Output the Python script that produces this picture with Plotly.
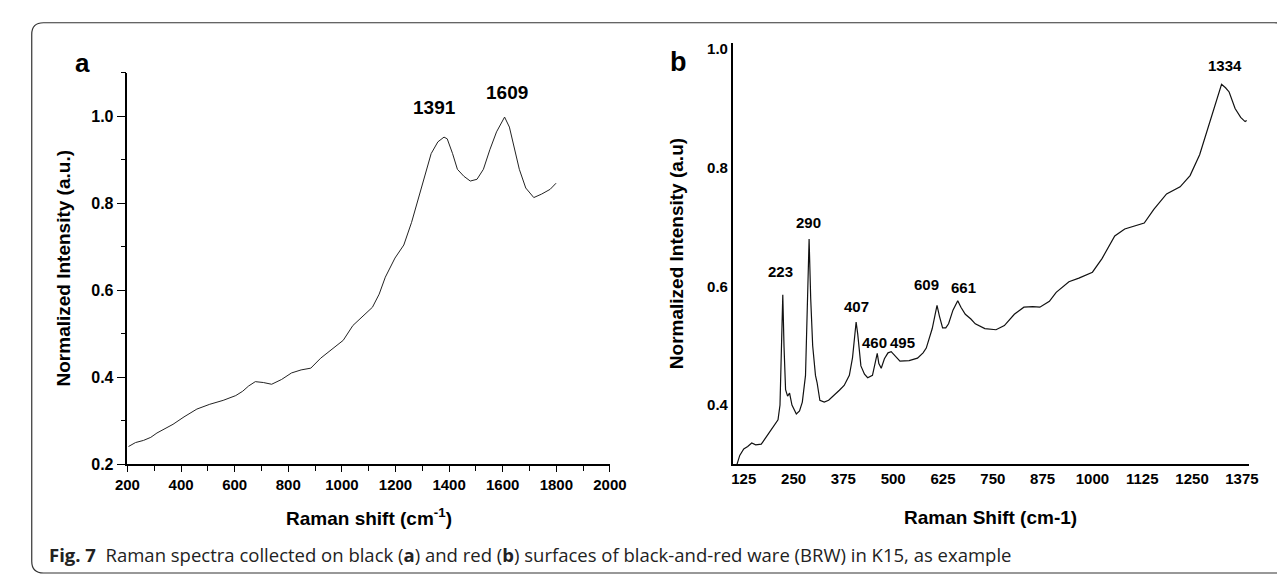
import plotly.graph_objects as go

# ---------------- data ----------------
a_shift = [204, 230, 260, 287, 310, 338, 370, 411, 459, 507, 557, 604, 630, 652, 677,
           707, 738, 775, 812, 848, 884, 921, 968, 1005, 1041, 1078, 1114, 1139, 1162,
           1198, 1231, 1260, 1285, 1308, 1333, 1358, 1381, 1393, 1413, 1431, 1455, 1479,
           1504, 1528, 1552, 1577, 1607, 1625, 1643, 1662, 1686, 1716, 1745, 1777, 1799]
a_intensity = [0.241, 0.250, 0.255, 0.262, 0.272, 0.281, 0.292, 0.309, 0.327, 0.338, 0.347,
               0.358, 0.368, 0.380, 0.390, 0.388, 0.384, 0.395, 0.410, 0.417, 0.421, 0.444,
               0.467, 0.485, 0.519, 0.541, 0.561, 0.591, 0.630, 0.674, 0.704, 0.756, 0.810,
               0.865, 0.914, 0.941, 0.952, 0.948, 0.914, 0.878, 0.862, 0.851, 0.855, 0.878,
               0.923, 0.964, 0.998, 0.975, 0.930, 0.878, 0.835, 0.813, 0.821, 0.832, 0.846]

b_shift = [108, 115, 125, 135, 145, 155, 169, 185, 203, 211, 216, 220, 223, 226, 230, 235,
           240, 246, 257, 265, 272, 280, 285, 289, 293, 298, 305, 309, 316, 327, 338, 350,
           365, 377, 390, 398, 403, 407, 411, 419, 428, 436, 448, 455, 460, 464, 470, 478,
           487, 495, 505, 517, 540, 561, 575, 583, 598, 604, 610, 616, 624, 632, 639, 650,
           662, 670, 681, 695, 706, 730, 758, 779, 804, 828, 850, 868, 892, 909, 941, 966,
           1000, 1024, 1056, 1081, 1105, 1130, 1154, 1186, 1220, 1245, 1269, 1284, 1306,
           1324, 1334, 1343, 1358, 1372, 1383, 1387]
b_intensity = [0.300, 0.315, 0.326, 0.330, 0.336, 0.333, 0.334, 0.350, 0.369, 0.375, 0.400,
               0.500, 0.586, 0.500, 0.426, 0.415, 0.420, 0.400, 0.385, 0.390, 0.405, 0.450,
               0.560, 0.680, 0.580, 0.500, 0.450, 0.438, 0.408, 0.405, 0.408, 0.415, 0.425,
               0.433, 0.450, 0.480, 0.520, 0.540, 0.520, 0.466, 0.452, 0.446, 0.450, 0.470,
               0.487, 0.470, 0.462, 0.478, 0.488, 0.490, 0.482, 0.474, 0.475, 0.479, 0.488,
               0.496, 0.529, 0.550, 0.568, 0.550, 0.530, 0.530, 0.537, 0.560, 0.576, 0.565,
               0.553, 0.545, 0.537, 0.529, 0.527, 0.534, 0.553, 0.565, 0.566, 0.565, 0.575,
               0.590, 0.608, 0.614, 0.624, 0.647, 0.685, 0.697, 0.702, 0.707, 0.730, 0.756,
               0.768, 0.787, 0.822, 0.855, 0.905, 0.941, 0.935, 0.928, 0.900, 0.885, 0.878,
               0.880]

a_peaks = ["1391", "1609"]
b_peaks = ["223", "290", "407", "460", "495", "609", "661", "1334"]

a_xticks = [200, 400, 600, 800, 1000, 1200, 1400, 1600, 1800, 2000]
a_yticks = [0.2, 0.4, 0.6, 0.8, 1.0]
b_xticks = [125, 250, 375, 500, 625, 750, 875, 1000, 1125, 1250, 1375]
b_yticks = [0.4, 0.6, 0.8, 1.0]

# ---------------- label positions (layout) ----------------
a_label_pos = [(1344, 1.020), (1617, 1.054)]
b_label_pos = [(216, 0.626), (287, 0.708), (407, 0.566), (452, 0.506), (524, 0.506),
               (583, 0.603), (676, 0.598), (1333, 0.972)]

W, H = 1285, 575
def px(x):
    return x / W
def py(y):
    return 1 - y / H

FONT = "Liberation Sans, Arial, sans-serif"

fig = go.Figure()
fig.add_trace(go.Scatter(x=a_shift, y=a_intensity, mode="lines",
                         line=dict(color="#222", width=1), xaxis="x", yaxis="y",
                         showlegend=False, hoverinfo="x+y"))
fig.add_trace(go.Scatter(x=b_shift, y=b_intensity, mode="lines",
                         line=dict(color="#111", width=1.2), xaxis="x2", yaxis="y2",
                         showlegend=False, hoverinfo="x+y"))

tickfont = dict(family=FONT, size=15, color="black", weight="bold")

fig.update_layout(
    width=W, height=H,
    margin=dict(l=0, r=0, t=0, b=0),
    paper_bgcolor="white", plot_bgcolor="white",
    xaxis=dict(domain=[px(109), px(603)], range=[200, 2000], anchor="y",
               tickvals=a_xticks, ticktext=[str(v) for v in a_xticks],
               ticks="outside", ticklen=6, tickwidth=1.3, tickcolor="black",
               minor=dict(dtick=100, tick0=200, ticks="outside", ticklen=5,
                          tickwidth=1.3, tickcolor="black", showgrid=False),
               showline=True, linecolor="black", linewidth=1.5,
               showgrid=False, zeroline=False, tickfont=tickfont),
    yaxis=dict(domain=[py(463), py(63)], range=[0.2, 1.1], anchor="x",
               tickvals=a_yticks, ticktext=["%.1f" % v for v in a_yticks],
               ticks="outside", ticklen=9, tickwidth=1.3, tickcolor="black",
               minor=dict(dtick=0.1, tick0=0.2, ticks="outside", ticklen=5,
                          tickwidth=1.3, tickcolor="black", showgrid=False),
               showline=True, linecolor="black", linewidth=1.5,
               showgrid=False, zeroline=False, tickfont=dict(tickfont, size=16)),
    xaxis2=dict(domain=[px(729), px(1257)], range=[98, 1392], anchor="y2",
                tickvals=b_xticks, ticktext=[str(v) for v in b_xticks],
                ticks="", showline=True, linecolor="black", linewidth=2,
                showgrid=False, zeroline=False, tickfont=tickfont),
    yaxis2=dict(domain=[py(463), py(33)], range=[0.30, 1.01], anchor="x2",
                tickvals=b_yticks, ticktext=["%.1f" % v for v in b_yticks],
                ticks="", showline=True, linecolor="black", linewidth=2,
                showgrid=False, zeroline=False, tickfont=tickfont),
)

ann = []
# peak labels
for t, (x, y) in zip(a_peaks, a_label_pos):
    ann.append(dict(x=x, y=y, xref="x", yref="y", text=t, showarrow=False,
                    xanchor="center", yanchor="middle",
                    font=dict(family=FONT, size=19, color="black", weight="bold")))
for t, (x, y) in zip(b_peaks, b_label_pos):
    ann.append(dict(x=x, y=y, xref="x2", yref="y2", text=t, showarrow=False,
                    xanchor="center", yanchor="middle",
                    font=dict(family=FONT, size=15, color="black", weight="bold")))

def paper_text(x, y, text, font, angle=0, xanchor="center"):
    return dict(x=px(x), y=py(y), xref="paper", yref="paper", text=text,
                showarrow=False, xanchor=xanchor, yanchor="middle",
                textangle=angle, font=font)

# panel letters
ann.append(paper_text(63, 53, "a", dict(family=FONT, size=26, color="black", weight="bold")))
ann.append(paper_text(673, 52, "b", dict(family=FONT, size=27, color="black", weight="bold")))
# axis titles
titlefont = dict(family=FONT, size=19, color="black", weight="bold")
ann.append(paper_text(356, 517, "Raman shift (cm<sup>-1</sup>)", titlefont))
ann.append(paper_text(44, 263, "Normalized Intensity (a.u.)", titlefont, angle=-90))
ann.append(paper_text(993, 517, "Raman Shift (cm-1)", titlefont))
ann.append(paper_text(672, 248, "Normalized Intensity (a.u)", titlefont, angle=-90))
# caption
ann.append(paper_text(27, 555,
                      "<b>Fig. 7</b>  Raman spectra collected on black (<b>a</b>) and red (<b>b</b>) "
                      "surfaces of black-and-red ware (BRW) in K15, as example",
                      dict(family="Open Sans, sans-serif", size=18.5, color="#222"),
                      xanchor="left"))
fig.update_layout(annotations=ann)

# rounded frame
x0, x1 = px(11), px(1295)
y1, y0 = py(12), py(574)
rx, ry = 12 / W, 12 / H
path = (f"M {x0+rx},{y1} L {x1-rx},{y1} Q {x1},{y1} {x1},{y1-ry} L {x1},{y0+ry} "
        f"Q {x1},{y0} {x1-rx},{y0} L {x0+rx},{y0} Q {x0},{y0} {x0},{y0+ry} "
        f"L {x0},{y1-ry} Q {x0},{y1} {x0+rx},{y1} Z")
fig.add_shape(type="path", path=path, xref="paper", yref="paper",
              line=dict(color="#333", width=1.2), layer="below")

fig.write_html("out.html")
